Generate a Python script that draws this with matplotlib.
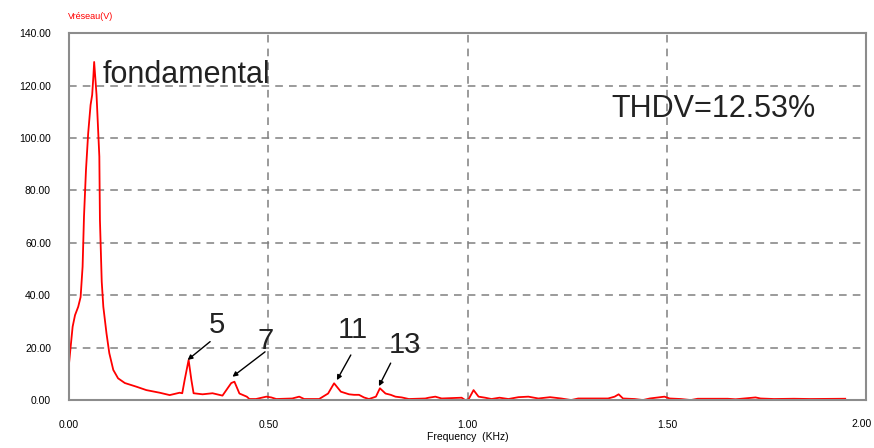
import numpy as np
import matplotlib
matplotlib.use("Agg")
import matplotlib.pyplot as plt

# --- spectrum (KHz, V) ---
freq = [0.000, 0.0025, 0.009, 0.015, 0.023, 0.029, 0.034, 0.0375, 0.0425, 0.048,
        0.054, 0.058, 0.061, 0.063, 0.069, 0.076, 0.0775, 0.082, 0.086, 0.094,
        0.101, 0.111, 0.123, 0.140, 0.169, 0.194, 0.2275, 0.2525, 0.2775, 0.284,
        0.290, 0.300, 0.307, 0.3125, 0.335, 0.360, 0.385, 0.407, 0.415, 0.4275,
        0.446, 0.4525, 0.469, 0.495, 0.5075, 0.520, 0.560, 0.5775, 0.590, 0.6275,
        0.650, 0.665, 0.682, 0.7025, 0.715, 0.7275, 0.740, 0.7525, 0.770, 0.780,
        0.794, 0.807, 0.819, 0.835, 0.8525, 0.894, 0.919, 0.935, 0.9025, 0.985]
volt = [14.0, 18.0, 28.0, 32.4, 35.6, 39.3, 50.9, 70.0, 87.8, 101.8,
        112.6, 116.4, 123.4, 129.0, 116.4, 92.9, 68.7, 45.2, 35.6, 25.4,
        17.9, 11.5, 8.3, 6.5, 5.1, 3.8, 2.8, 1.9, 2.8, 2.6,
        7.6, 15.3, 7.6, 2.6, 2.2, 2.6, 1.7, 6.5, 7.0, 2.5,
        1.3, 0.4, 0.4, 1.3, 1.0, 0.4, 0.6, 1.3, 0.4, 0.4,
        2.5, 6.4, 3.2, 2.2, 2.0, 2.0, 1.0, 0.4, 1.3, 4.5,
        2.5, 2.0, 1.3, 1.0, 0.4, 0.6, 1.3, 0.6, 0.9, 0.9]
freq_tail = [0.994, 1.0025, 1.015, 1.0275, 1.044, 1.060, 1.080, 1.1025, 1.1275, 1.1525,
             1.1775, 1.207, 1.235, 1.260, 1.2775, 1.3525, 1.369, 1.379, 1.390, 1.419,
             1.440, 1.457, 1.494, 1.507, 1.535, 1.560, 1.5775, 1.6525, 1.6725, 1.7225,
             1.735, 1.769, 1.819, 1.860, 1.9475]
volt_tail = [0.0, 0.3, 3.8, 1.3, 0.9, 0.4, 0.9, 0.4, 1.1, 1.3,
             0.6, 1.1, 0.6, 0.0, 0.6, 0.6, 1.3, 2.2, 0.6, 0.4,
             0.0, 0.6, 1.3, 0.6, 0.4, 0.0, 0.5, 0.5, 0.3, 1.0,
             0.6, 0.4, 0.5, 0.4, 0.5]

harm_labels = ["5", "7", "11", "13"]
harm_text_pos = [(0.370, 28.6), (0.494, 22.5), (0.7125, 26.7), (0.8425, 21.0)]
harm_arrow_from = [(0.354, 22.3), (0.4918, 18.4), (0.707, 17.2), (0.807, 14.1)]
harm_arrow_to = [(0.2975, 15.3), (0.410, 8.9), (0.672, 7.6), (0.7775, 5.3)]

xticks = [0.0, 0.5, 1.0, 1.5, 2.0]
yticks = [0, 20, 40, 60, 80, 100, 120, 140]

pairs = sorted(zip(freq + freq_tail, volt + volt_tail))
f_all = np.array([p[0] for p in pairs])
v_all = np.array([p[1] for p in pairs])

plt.rcParams['font.family'] = ['Liberation Sans', 'DejaVu Sans']

fig = plt.figure(figsize=(8.74, 4.48), dpi=100)
ax = fig.add_axes([0.079, 0.107, 0.912, 0.819])

ax.plot(f_all, v_all, color='#ff0000', lw=1.3, zorder=2)

ax.set_xlim(0, 2.0)
ax.set_ylim(0, 140)
ax.set_xticks(xticks)
ax.set_yticks(yticks)
# the last x label sits on the figure edge, drawn separately below
ax.set_xticklabels([f"{t:.2f}" for t in xticks[:-1]] + [""])
ax.set_yticklabels([f"{t:.2f}" for t in yticks])
ax.tick_params(length=0, labelsize=7.5, colors='black')
ax.tick_params(axis='y', pad=13)
ax.tick_params(axis='x', pad=14)
ax.text(1.0 + 6 / (0.912 * 874), -0.051, f"{xticks[-1]:.2f}", transform=ax.transAxes,
        fontsize=7.5, ha='right', va='top')

ax.grid(True, color='#808080', ls=(0, (5, 4)), lw=1.1, zorder=1)
for s in ax.spines.values():
    s.set_color('#8c8c8c')
    s.set_linewidth(1.5)
    s.set_zorder(3)

ax.set_xlabel("Frequency  (KHz)", fontsize=7.5, labelpad=2)
fig.text(0.078, 0.963, "Vréseau(V)", color='#ff0000', fontsize=6.5, ha='left', va='center')

ax.text(0.085, 124, "fondamental", fontsize=22, color='#222222', ha='left', va='center')
ax.text(1.36, 111, "THDV=12.53%", fontsize=22, color='#222222', ha='left', va='center')

for lab, tp, a0, a1 in zip(harm_labels, harm_text_pos, harm_arrow_from, harm_arrow_to):
    ax.text(tp[0], tp[1], lab, fontsize=21, color='#222222', ha='center', va='center')
    ax.annotate("", xy=a1, xytext=a0,
                arrowprops=dict(arrowstyle='-|>', color='black', lw=1.0,
                                mutation_scale=7, shrinkA=0, shrinkB=0))

fig.savefig("out.png", dpi=100)
